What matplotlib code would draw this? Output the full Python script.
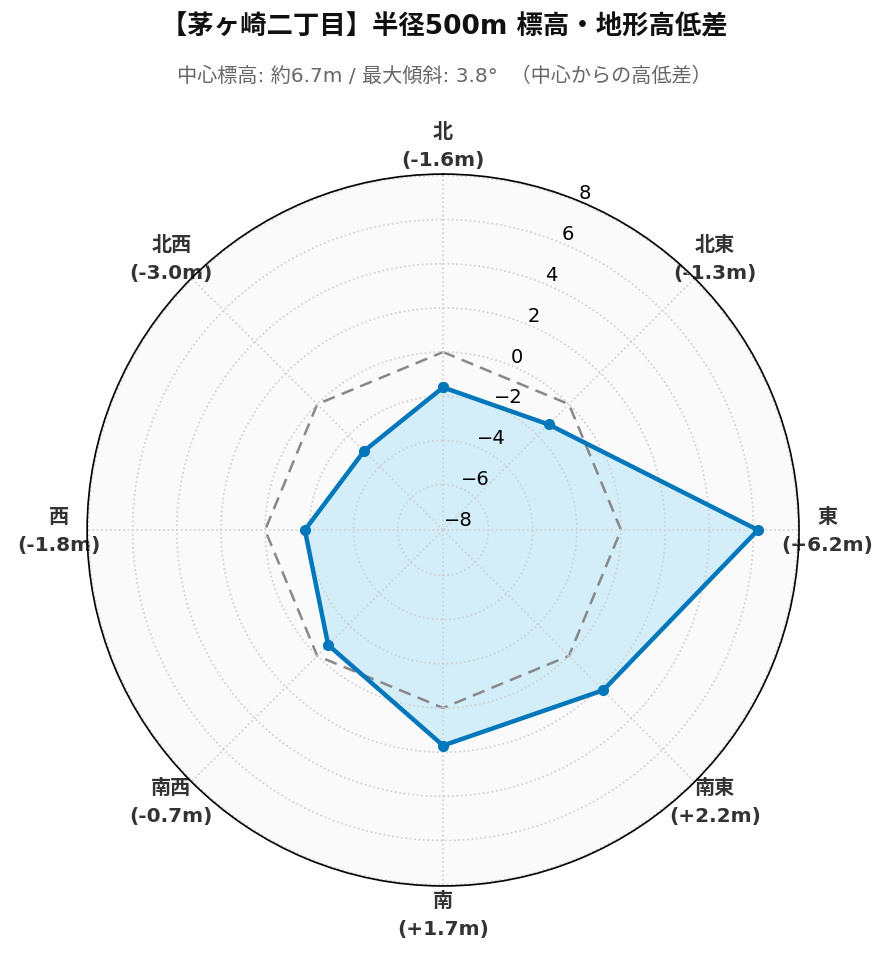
import matplotlib
matplotlib.use("Agg")
import matplotlib.pyplot as plt
import numpy as np

plt.rcParams['font.family'] = ['DejaVu Sans', 'Noto Sans CJK JP']

directions = ['北', '北東', '東', '南東', '南', '南西', '西', '北西']
diffs = [-1.6, -1.3, 6.2, 2.2, 1.7, -0.7, -1.8, -3.0]
r_ticks = [-8, -6, -4, -2, 0, 2, 4, 6, 8]
r_lim = (-8.06, 8.06)

angles = np.linspace(0, 2 * np.pi, len(directions), endpoint=False)
ang_c = np.append(angles, angles[0])
val_c = np.append(diffs, diffs[0])
zero_c = np.zeros_like(ang_c)

fig = plt.figure(figsize=(8.89, 9.62), dpi=100)
ax = fig.add_axes([0.0979, 0.078, 0.801, 0.740], projection='polar')
ax.set_theta_zero_location('N')
ax.set_theta_direction(-1)
ax.set_facecolor('#fafafa')

# zero reference line
ax.plot(ang_c, zero_c, color='#888888', lw=1.8, ls=(0, (5, 3)), zorder=1.2)
ax.fill(ang_c, val_c, color='#d3edf9', alpha=1.0, zorder=1)
ax.plot(ang_c, val_c, color='#0077bb', lw=3.2, marker='o', ms=7, zorder=3)

ax.set_ylim(*r_lim)
ax.set_yticks(r_ticks)
ax.set_yticklabels([f'\u2212{abs(t)}' if t < 0 else str(t) for t in r_ticks], fontsize=14)
ax.set_rlabel_position(22.5)

labels = [f'{d}\n({v:+.1f}m)' for d, v in zip(directions, diffs)]
ax.set_xticks(angles)
ax.set_xticklabels(labels, fontsize=14.5, fontweight='bold', color='#333333',
                   linespacing=1.6)
ax.tick_params(axis='x', pad=10)

ax.grid(True, color='#d0d0d0', ls=':', lw=1.2)
ax.spines['polar'].set_color('black')
ax.spines['polar'].set_linewidth(1.2)

fig.text(0.5, 0.971, '【茅ヶ崎二丁目】半径500m 標高・地形高低差', ha='center', va='center',
         fontsize=19, fontweight='bold', color='#111111')
fig.text(0.5, 0.921, '中心標高: 約6.7m / 最大傾斜: 3.8°  （中心からの高低差）', ha='center', va='center',
         fontsize=14.5, color='#666666')

fig.savefig('out.png', dpi=100)
